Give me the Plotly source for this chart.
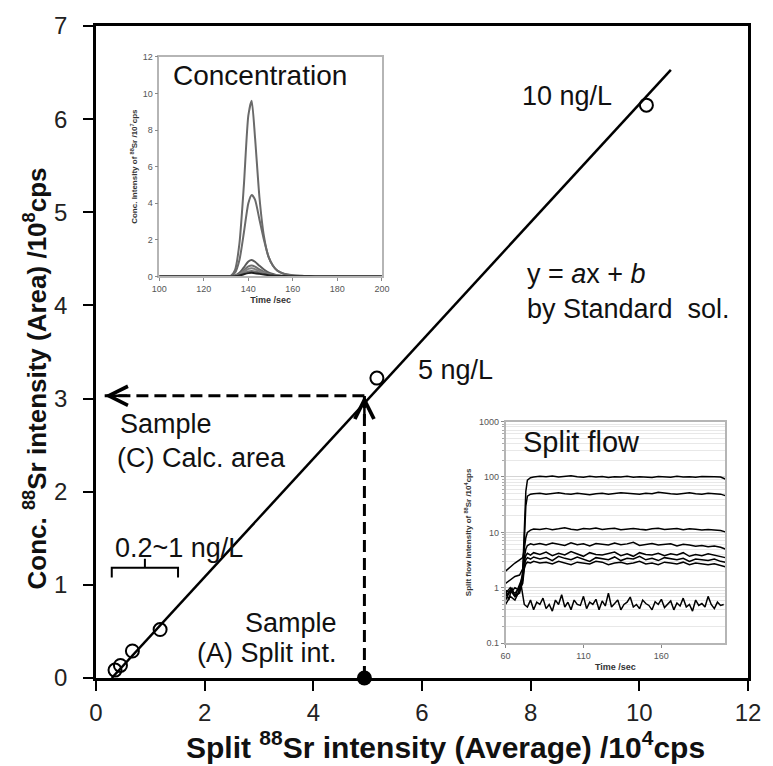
import plotly.graph_objects as go

FONT = "Liberation Sans, Arial, sans-serif"

# ---------------- main calibration data ----------------
std_x = [0.35, 0.45, 0.67, 1.18, 5.17, 10.13]
std_y = [0.085, 0.135, 0.29, 0.52, 3.22, 6.15]
fit_x = [0.29, 10.58]
fit_y = [0.0, 6.53]
sample_split = 4.94      # (A) split intensity
sample_area = 3.03       # (C) calculated area
arrow_tip_x = 0.16
x_ticks = [0, 2, 4, 6, 8, 10, 12]
y_ticks = [0, 1, 2, 3, 4, 5, 6, 7]
bracket_x = [0.29, 0.90, 1.51]   # left, centre, right
bracket_y = [1.08, 1.185, 1.28]  # arm bottom, bar, centre tip

# ---------------- concentration inset data ----------------
conc_t = [100, 128, 132, 134, 136, 138, 140, 141.5, 143, 145, 147, 149, 151, 153, 156, 160, 165, 170, 185, 200]
conc_series = [
    [0, 0, 0.02, 0.35, 1.8, 5.0, 8.8, 9.6, 7.6, 4.3, 2.2, 1.1, 0.6, 0.32, 0.14, 0.05, 0.02, 0.01, 0, 0],
    [0, 0, 0.02, 0.2, 0.9, 2.4, 4.0, 4.45, 4.2, 3.1, 2.0, 1.1, 0.6, 0.32, 0.15, 0.06, 0.03, 0.01, 0, 0],
    [0, 0, 0.01, 0.05, 0.2, 0.5, 0.82, 0.9, 0.8, 0.58, 0.38, 0.22, 0.13, 0.07, 0.04, 0.02, 0.01, 0, 0, 0],
    [0, 0, 0.01, 0.04, 0.13, 0.35, 0.55, 0.6, 0.53, 0.38, 0.25, 0.15, 0.09, 0.05, 0.03, 0.02, 0.01, 0, 0, 0],
    [0, 0, 0, 0.03, 0.1, 0.26, 0.41, 0.45, 0.4, 0.29, 0.19, 0.11, 0.07, 0.04, 0.02, 0.01, 0, 0, 0, 0],
    [0, 0, 0, 0.02, 0.07, 0.17, 0.27, 0.3, 0.27, 0.2, 0.13, 0.08, 0.05, 0.03, 0.02, 0.01, 0, 0, 0, 0],
    [0, 0, 0, 0.01, 0.05, 0.12, 0.18, 0.2, 0.18, 0.14, 0.1, 0.07, 0.05, 0.03, 0.02, 0.01, 0.01, 0, 0, 0],
]
conc_colors = ["#6a6a6a", "#6a6a6a", "#5a5a5a", "#707070", "#808080", "#707070", "#202020"]

# ---------------- split flow inset data ----------------
split_t = [60, 63, 66, 69, 71, 72, 73, 74, 76, 78,
           82, 86, 90, 94, 98, 102, 106, 110, 114, 118, 122, 126, 130, 134, 138,
           142, 146, 150, 154, 158, 162, 166, 170, 174, 178, 182, 186, 190, 194, 198, 201]
split_series = [
    [0.9, 0.8, 1.0, 0.9, 2.0, 12, 55, 88, 97, 100,
     103, 101, 104, 100, 102, 105, 101, 99, 103, 100, 102, 98, 101, 100, 103,
     99, 101, 100, 98, 102, 101, 99, 103, 100, 101, 99, 102, 103, 101, 100, 92],
    [0.7, 0.9, 0.8, 1.0, 1.5, 8, 30, 45, 49, 50,
     51, 49, 50, 52, 50, 49, 51, 50, 48, 50, 51, 49, 50, 52, 51,
     50, 49, 51, 50, 53, 51, 50, 49, 51, 52, 50, 49, 51, 50, 49, 46],
    [2.0, 2.4, 2.8, 3.2, 3.5, 5, 8, 10, 11, 11.5,
     11.3, 11.8, 11.2, 11.6, 12.1, 11.4, 11.0, 11.7, 11.5, 12.0, 11.3, 11.6, 11.9, 11.2, 11.5,
     11.8, 11.4, 11.1, 11.6, 11.9, 11.3, 11.5, 11.7, 11.2, 11.6, 11.4, 11.0, 11.3, 11.1, 10.8, 10.2],
    [1.2, 1.4, 1.6, 1.7, 2.2, 3.5, 5, 5.8, 6.2, 6.0,
     6.3, 5.9, 6.4, 6.1, 5.8, 6.5, 6.0, 6.2, 5.7, 6.3, 6.1, 5.9, 6.4, 6.0, 6.2,
     6.6, 5.8, 6.1, 6.3, 5.9, 6.0, 6.2, 5.7, 6.1, 5.9, 5.6, 5.8, 5.5, 5.7, 5.4, 5.0],
    [0.8, 1.0, 0.7, 1.1, 1.6, 3, 3.8, 4.2, 3.9, 4.3,
     4.0, 4.4, 3.8, 4.2, 3.9, 4.5, 4.1, 3.7, 4.3, 4.0, 3.9, 4.2, 4.4, 3.8, 4.1,
     3.7, 4.3, 4.0, 3.9, 4.2, 3.8, 4.1, 3.9, 4.3, 3.7, 4.0, 3.8, 4.1, 3.9, 3.6, 3.5],
    [0.6, 0.9, 0.7, 0.8, 1.4, 2.5, 3.2, 3.5, 3.3, 3.6,
     3.3, 3.5, 3.1, 3.7, 3.4, 3.2, 3.6, 3.3, 3.0, 3.5, 3.4, 3.2, 3.6, 3.1, 3.4,
     3.3, 3.7, 3.2, 3.4, 3.1, 3.5, 3.3, 3.2, 3.4, 3.0, 3.3, 3.2, 3.1, 3.3, 3.0, 2.9],
    [0.5, 0.7, 0.6, 0.9, 1.2, 2.2, 2.7, 2.9, 2.8, 3.0,
     2.8, 2.9, 2.7, 3.0, 2.8, 2.6, 2.9, 2.8, 2.7, 3.0, 2.9, 2.6, 2.8, 2.9, 2.7,
     2.8, 3.0, 2.7, 2.8, 2.6, 2.9, 2.8, 2.7, 2.9, 2.6, 2.8, 2.7, 2.6, 2.7, 2.5, 2.4],
]
blank_t = list(range(60, 201, 2))
blank_v = [0.9, 0.6, 1.0, 0.7, 0.8, 1.1,
           0.5, 0.45, 0.6, 0.4, 0.55, 0.5, 0.65, 0.42, 0.5, 0.38,
           0.6, 0.5, 0.75, 0.45, 0.55, 0.4, 0.6, 0.5, 0.48, 0.7,
           0.42, 0.55, 0.5, 0.62, 0.4, 0.58, 0.47, 0.8, 0.45, 0.52,
           0.6, 0.4, 0.5, 0.55, 0.68, 0.45, 0.5, 0.42, 0.6, 0.52,
           0.48, 0.4, 0.56, 0.5, 0.62, 0.44, 0.5, 0.58, 0.4, 0.53,
           0.47, 0.65, 0.45, 0.5, 0.38, 0.6, 0.48, 0.52, 0.45, 0.7,
           0.5, 0.42, 0.55, 0.48, 0.5]

fig = go.Figure()

# ---------- main chart ----------
fig.add_trace(go.Scatter(x=fit_x, y=fit_y, mode="lines",
                         line=dict(color="black", width=2.5), showlegend=False))
fig.add_trace(go.Scatter(x=std_x, y=std_y, mode="markers",
                         marker=dict(symbol="circle-open", size=13, color="black",
                                     line=dict(width=2, color="black")),
                         showlegend=False, cliponaxis=False))
# dashed guide lines
fig.add_trace(go.Scatter(x=[sample_split, sample_split], y=[0, sample_area], mode="lines",
                         line=dict(color="black", width=3, dash="12px,6px"), showlegend=False))
fig.add_trace(go.Scatter(x=[sample_split, arrow_tip_x], y=[sample_area, sample_area], mode="lines",
                         line=dict(color="black", width=3, dash="12px,6px"), showlegend=False))
fig.add_trace(go.Scatter(x=[sample_split], y=[0], mode="markers",
                         marker=dict(symbol="circle", size=15, color="black"),
                         showlegend=False, cliponaxis=False))
# bracket
bl, bc, br = bracket_x
bb, bbar, btip = bracket_y
fig.add_trace(go.Scatter(x=[bl, bl, br, br, None, bc, bc], y=[bb, bbar, bbar, bb, None, bbar, btip],
                         mode="lines", line=dict(color="black", width=2), showlegend=False))

# ---------- concentration inset ----------
for vals, col in zip(conc_series, conc_colors):
    fig.add_trace(go.Scatter(x=conc_t, y=vals, mode="lines", xaxis="x2", yaxis="y2",
                             line=dict(color=col, width=2, shape="spline", smoothing=0.6),
                             showlegend=False))

# ---------- split flow inset ----------
for vals in split_series:
    fig.add_trace(go.Scatter(x=split_t, y=vals, mode="lines", xaxis="x3", yaxis="y3",
                             line=dict(color="black", width=1.5), showlegend=False))
fig.add_trace(go.Scatter(x=blank_t, y=blank_v, mode="lines", xaxis="x3", yaxis="y3",
                         line=dict(color="black", width=1.5), showlegend=False))

minor_vals = [m * 10 ** e for e in (-1, 0, 1, 2) for m in range(2, 10)]

tickfont_main = dict(family=FONT, size=24, color="#222")
small_tick = dict(family=FONT, size=9, color="#555")
small_title = dict(family=FONT, size=9, color="#333")

fig.update_layout(
    width=773, height=766,
    margin=dict(l=96, r=18, t=22, b=88),
    paper_bgcolor="white", plot_bgcolor="white",
    xaxis=dict(domain=[0, 1], range=[0, 12], tickvals=x_ticks, showgrid=False, zeroline=False,
               showline=True, linecolor="black", linewidth=2.5, mirror=True,
               ticks="outside", ticklen=10, tickwidth=2, tickcolor="black",
               tickfont=tickfont_main, ticklabelstandoff=1),
    yaxis=dict(domain=[0, 1], range=[0, 7], tickvals=y_ticks, showgrid=False, zeroline=False,
               showline=True, linecolor="black", linewidth=2.5, mirror=True,
               ticks="outside", ticklen=10, tickwidth=2, tickcolor="black",
               tickfont=tickfont_main, ticklabelstandoff=11),
    xaxis2=dict(domain=[0.0971, 0.4385], anchor="y2", range=[100, 200], dtick=20,
                showgrid=False, zeroline=False, showline=True, linecolor="#b5b5b5", linewidth=1.5,
                mirror=True, ticks="outside", ticklen=3, tickcolor="#888", tickfont=small_tick,
                title=dict(text="<b>Time /sec</b>", font=small_title, standoff=4)),
    yaxis2=dict(domain=[0.6159, 0.9527], anchor="x2", range=[0, 12], dtick=2,
                showgrid=False, zeroline=False, showline=True, linecolor="#b5b5b5", linewidth=1.5,
                mirror=True, ticks="outside", ticklen=3, tickcolor="#888", tickfont=small_tick,
                title=dict(text="<b>Conc. Intensity of <sup>88</sup>Sr /10<sup>7</sup>cps</b>",
                           font=dict(family=FONT, size=8, color="#333"), standoff=4)),
    xaxis3=dict(domain=[0.6282, 0.9651], anchor="y3", range=[60, 201], tickvals=[60, 110, 160],
                showgrid=False, zeroline=False, showline=True, linecolor="#b5b5b5", linewidth=1.5,
                mirror=True, ticks="outside", ticklen=3, tickcolor="#888", tickfont=small_tick,
                title=dict(text="<b>Time /sec</b>", font=small_title, standoff=4)),
    yaxis3=dict(domain=[0.0534, 0.3933], anchor="x3", type="log", range=[-1, 3],
                tickvals=[0.1, 1, 10, 100, 1000], ticktext=["0.1", "1", "10", "100", "1000"],
                showgrid=True, gridcolor="#d4d4d4", gridwidth=1, zeroline=False,
                showline=True, linecolor="#b5b5b5", linewidth=1.5, mirror=True,
                ticks="outside", ticklen=3, tickcolor="#888", tickfont=small_tick,
                minor=dict(tickvals=minor_vals, showgrid=True, gridcolor="#e8e8e8",
                           ticks="outside", ticklen=2, tickcolor="#aaa"),
                title=dict(text="<b>Split flow intensity of <sup>88</sup>Sr /10<sup>4</sup>cps</b>",
                           font=dict(family=FONT, size=8, color="#333"), standoff=6)),
)

txt = dict(family=FONT, size=27, color="#111")
anns = [
    dict(x=8.67, y=6.25, text="10 ng/L", xanchor="center"),
    dict(x=6.61, y=3.31, text="5 ng/L", xanchor="center"),
    dict(x=7.9, y=4.34, text="y = <i>a</i>x + <i>b</i>", xanchor="left"),
    dict(x=7.9, y=3.96, text="by Standard  sol.", xanchor="left"),
    dict(x=0.40, y=2.73, text="Sample", xanchor="left"),
    dict(x=0.35, y=2.36, text="(C) Calc. area", xanchor="left"),
    dict(x=4.48, y=0.59, text="Sample", xanchor="right"),
    dict(x=4.48, y=0.27, text="(A) Split int.", xanchor="right"),
    dict(x=0.31, y=1.40, text="0.2~1 ng/L", xanchor="left"),
]
for a in anns:
    fig.add_annotation(xref="x", yref="y", showarrow=False, yanchor="middle", font=txt, **a)

# arrowheads
fig.add_annotation(x=arrow_tip_x, y=sample_area, xref="x", yref="y", text="", showarrow=True,
                   ax=24, ay=0, arrowhead=5, arrowsize=1.5, arrowwidth=2.5, arrowcolor="black",
                   standoff=0)
fig.add_annotation(x=sample_split, y=sample_area, xref="x", yref="y", text="", showarrow=True,
                   ax=0, ay=24, arrowhead=5, arrowsize=1.5, arrowwidth=2.5, arrowcolor="black",
                   standoff=0)

# inset titles
fig.add_annotation(xref="x2 domain", yref="y2 domain", x=0.053, y=0.914, text="Concentration",
                   showarrow=False, xanchor="left", yanchor="middle",
                   font=dict(family=FONT, size=28, color="#111"))
fig.add_annotation(xref="x3 domain", yref="y3 domain", x=0.068, y=0.91, text="Split flow",
                   showarrow=False, xanchor="left", yanchor="middle",
                   font=dict(family=FONT, size=29, color="#111"))

# main axis titles
fig.add_annotation(xref="paper", yref="paper", x=0.536, y=-0.103, showarrow=False,
                   text="<b>Split <sup>88</sup>Sr intensity (Average) /10<sup>4</sup>cps</b>",
                   xanchor="center", yanchor="middle", font=dict(family=FONT, size=30, color="#111"))
fig.add_annotation(xref="paper", yref="paper", x=-0.093, y=0.46, showarrow=False, textangle=-90,
                   text="<b>Conc. <sup>88</sup>Sr intensity (Area) /10<sup>8</sup>cps</b>",
                   xanchor="center", yanchor="middle", font=dict(family=FONT, size=26, color="#111"))

fig.write_html("out.html")
